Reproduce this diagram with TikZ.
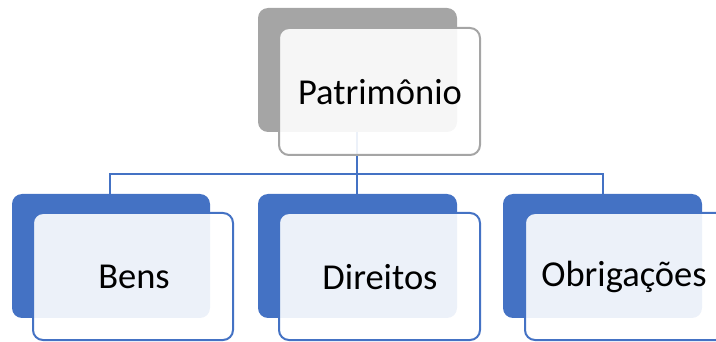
\documentclass[tikz,border=0pt]{standalone}
\usepackage{fontspec}
\setmainfont{Carlito}
\definecolor{accblue}{HTML}{4472C4}
\definecolor{accgrey}{HTML}{A5A5A5}
\begin{document}
\begin{tikzpicture}[x=1pt,y=-1pt,
  backbox/.style={rounded corners=10pt},
  frontbox/.style={rounded corners=10pt,fill=white,fill opacity=0.9,line width=2pt},
  lbl/.style={font=\fontsize{36.5}{42}\selectfont,text=black,inner sep=0pt},
  conn/.style={draw=accblue,line width=2pt}]
\useasboundingbox (0,0) rectangle (716,342);
\clip (0,0) rectangle (716,342);
% top
\fill[accgrey,backbox] (258,8) rectangle (457,132);
\coordinate (topc) at (357,132);
\coordinate (busL) at (110,174);
\coordinate (busM) at (357,174);
\coordinate (busR) at (603,174);
\coordinate (c1) at (110,194);
\coordinate (c2) at (357,194);
\coordinate (c3) at (603,194);
\draw[conn] (topc) -- (busM);
\draw[conn] (c1) -- (busL) -- (busR) -- (c3);
\draw[conn] (busM) -- (c2);
\draw[frontbox,draw=accgrey] (279,28) rectangle (480,155);
\node[lbl] (pat) at (380,92) {Patrimônio};
% children
\fill[accblue,backbox] (12,194) rectangle (210,318);
\fill[accblue,backbox] (258,194) rectangle (457,318);
\fill[accblue,backbox] (503,194) rectangle (702,318);
\draw[frontbox,draw=accblue] (33,213) rectangle (233,340);
\draw[frontbox,draw=accblue] (279,213) rectangle (480,340);
\draw[frontbox,draw=accblue] (525,213) rectangle (726,340);
\node[lbl] (bens) at (134,277) {Bens};
\node[lbl] (dir) at (380,277) {Direitos};
\node[lbl] (obr) at (624,277) {Obrigações};
\end{tikzpicture}
\end{document}
